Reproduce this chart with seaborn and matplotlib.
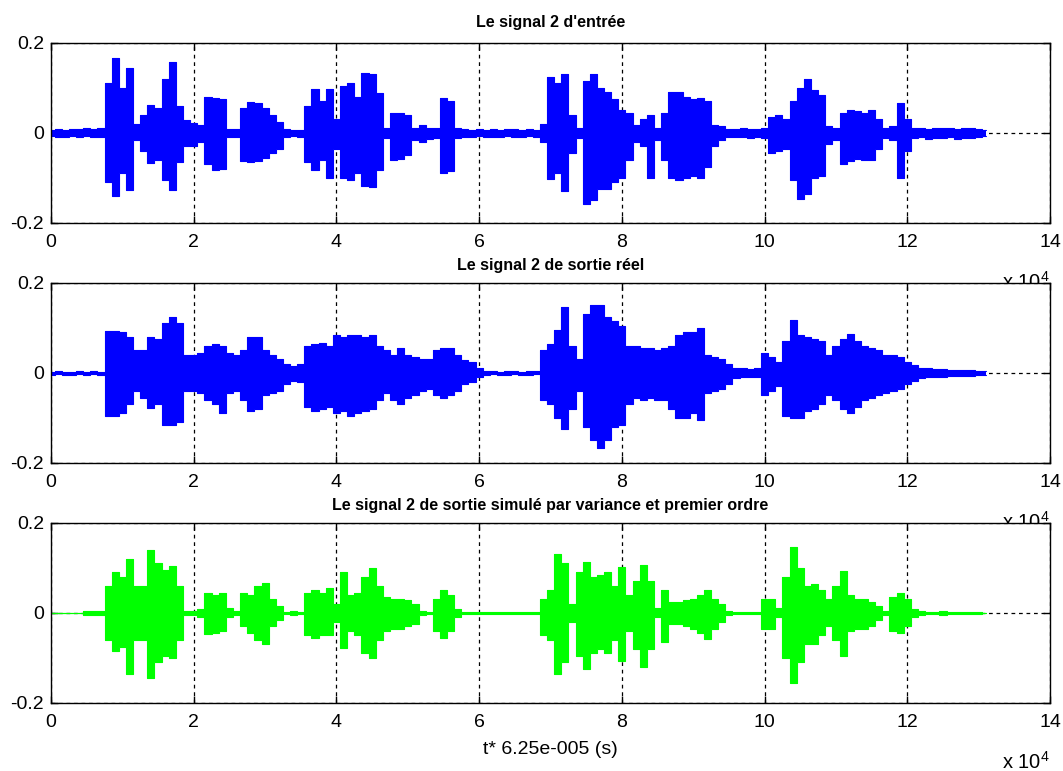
import numpy as np
import matplotlib
matplotlib.use("Agg")
import matplotlib.pyplot as plt
import seaborn as sns

# sample index (x 10^4), one envelope value every 1000 samples
t = np.arange(132) / 10

# envelopes: upper / lower amplitude of each signal
entree_hi = [0.007, 0.009, 0.006, 0.009, 0.008, 0.010, 0.008, 0.010, 0.110, 0.166,
             0.100, 0.145, 0.020, 0.040, 0.062, 0.055, 0.120, 0.158, 0.060, 0.028,
             0.022, 0.018, 0.080, 0.078, 0.075, 0.008, 0.008, 0.055, 0.068, 0.066,
             0.055, 0.040, 0.025, 0.008, 0.006, 0.007, 0.060, 0.098, 0.070, 0.098,
             0.030, 0.105, 0.110, 0.080, 0.133, 0.130, 0.088, 0.010, 0.044, 0.044,
             0.040, 0.012, 0.018, 0.012, 0.010, 0.077, 0.070, 0.010, 0.008, 0.007,
             0.009, 0.006, 0.008, 0.007, 0.009, 0.008, 0.006, 0.008, 0.007, 0.020,
             0.125, 0.110, 0.131, 0.040, 0.012, 0.116, 0.131, 0.100, 0.090, 0.075,
             0.050, 0.045, 0.018, 0.030, 0.040, 0.012, 0.045, 0.090, 0.090, 0.080,
             0.075, 0.078, 0.070, 0.018, 0.015, 0.009, 0.008, 0.010, 0.008, 0.009,
             0.010, 0.035, 0.040, 0.030, 0.070, 0.100, 0.120, 0.095, 0.085, 0.015,
             0.010, 0.045, 0.050, 0.048, 0.045, 0.050, 0.030, 0.012, 0.015, 0.067,
             0.030, 0.010, 0.012, 0.009, 0.011, 0.010, 0.012, 0.009, 0.011, 0.010,
             0.009, 0.006]
entree_lo = [-0.007, -0.008, -0.009, -0.006, -0.009, -0.007, -0.010, -0.008, -0.110, -0.141,
             -0.090, -0.127, -0.015, -0.040, -0.067, -0.060, -0.105, -0.127, -0.065, -0.030,
             -0.028, -0.020, -0.070, -0.082, -0.080, -0.010, -0.008, -0.062, -0.064, -0.062,
             -0.055, -0.045, -0.035, -0.008, -0.007, -0.008, -0.065, -0.082, -0.060, -0.100,
             -0.035, -0.100, -0.105, -0.090, -0.118, -0.120, -0.082, -0.012, -0.060, -0.058,
             -0.050, -0.015, -0.020, -0.014, -0.012, -0.090, -0.085, -0.012, -0.008, -0.009,
             -0.007, -0.010, -0.008, -0.009, -0.007, -0.008, -0.010, -0.007, -0.009, -0.020,
             -0.103, -0.090, -0.130, -0.045, -0.012, -0.157, -0.150, -0.125, -0.125, -0.110,
             -0.100, -0.060, -0.020, -0.030, -0.100, -0.015, -0.060, -0.100, -0.105, -0.100,
             -0.095, -0.100, -0.075, -0.030, -0.015, -0.009, -0.010, -0.008, -0.011, -0.009,
             -0.012, -0.045, -0.040, -0.035, -0.105, -0.147, -0.135, -0.100, -0.095, -0.025,
             -0.015, -0.068, -0.062, -0.058, -0.060, -0.060, -0.035, -0.012, -0.015, -0.100,
             -0.040, -0.012, -0.010, -0.013, -0.011, -0.012, -0.010, -0.013, -0.011, -0.012,
             -0.010, -0.006]

reel_hi = [0.003, 0.004, 0.003, 0.003, 0.004, 0.003, 0.004, 0.003, 0.093, 0.093,
           0.090, 0.080, 0.050, 0.050, 0.080, 0.075, 0.110, 0.125, 0.110, 0.040,
           0.040, 0.045, 0.060, 0.065, 0.060, 0.045, 0.040, 0.050, 0.080, 0.080,
           0.050, 0.040, 0.030, 0.020, 0.015, 0.020, 0.060, 0.065, 0.067, 0.060,
           0.085, 0.080, 0.085, 0.085, 0.080, 0.085, 0.060, 0.050, 0.040, 0.055,
           0.040, 0.035, 0.030, 0.030, 0.050, 0.055, 0.055, 0.040, 0.028, 0.025,
           0.010, 0.004, 0.004, 0.003, 0.004, 0.004, 0.003, 0.004, 0.004, 0.050,
           0.065, 0.095, 0.147, 0.060, 0.030, 0.130, 0.150, 0.150, 0.125, 0.115,
           0.105, 0.060, 0.060, 0.055, 0.055, 0.050, 0.055, 0.060, 0.085, 0.090,
           0.090, 0.100, 0.040, 0.035, 0.030, 0.020, 0.010, 0.010, 0.008, 0.010,
           0.045, 0.035, 0.025, 0.070, 0.117, 0.085, 0.080, 0.075, 0.070, 0.040,
           0.060, 0.075, 0.087, 0.070, 0.060, 0.055, 0.050, 0.040, 0.040, 0.035,
           0.025, 0.018, 0.012, 0.010, 0.009, 0.008, 0.007, 0.007, 0.006, 0.006,
           0.005, 0.004]
reel_lo = [-0.004, -0.003, -0.004, -0.004, -0.003, -0.004, -0.003, -0.004, -0.095, -0.095,
           -0.090, -0.070, -0.040, -0.055, -0.077, -0.070, -0.115, -0.115, -0.110, -0.040,
           -0.040, -0.045, -0.060, -0.070, -0.090, -0.045, -0.040, -0.060, -0.085, -0.080,
           -0.050, -0.045, -0.040, -0.025, -0.018, -0.020, -0.075, -0.085, -0.080, -0.075,
           -0.090, -0.085, -0.095, -0.090, -0.085, -0.080, -0.060, -0.045, -0.060, -0.070,
           -0.055, -0.050, -0.040, -0.035, -0.050, -0.055, -0.050, -0.040, -0.025, -0.020,
           -0.010, -0.004, -0.003, -0.004, -0.004, -0.003, -0.004, -0.004, -0.003, -0.060,
           -0.070, -0.100, -0.125, -0.080, -0.040, -0.120, -0.150, -0.166, -0.150, -0.120,
           -0.115, -0.070, -0.055, -0.060, -0.055, -0.060, -0.060, -0.080, -0.100, -0.100,
           -0.090, -0.105, -0.045, -0.040, -0.035, -0.025, -0.012, -0.010, -0.009, -0.010,
           -0.050, -0.040, -0.030, -0.095, -0.100, -0.100, -0.085, -0.080, -0.070, -0.050,
           -0.060, -0.080, -0.090, -0.075, -0.060, -0.055, -0.050, -0.045, -0.040, -0.035,
           -0.025, -0.018, -0.012, -0.010, -0.009, -0.008, -0.007, -0.007, -0.006, -0.006,
           -0.005, -0.004]

simule_hi = [0.001, 0.001, 0.001, 0.001, 0.001, 0.004, 0.004, 0.004, 0.060, 0.090,
             0.080, 0.120, 0.060, 0.060, 0.141, 0.110, 0.095, 0.104, 0.060, 0.005,
             0.005, 0.008, 0.045, 0.040, 0.045, 0.010, 0.005, 0.045, 0.040, 0.060,
             0.067, 0.030, 0.015, 0.003, 0.004, 0.003, 0.045, 0.050, 0.045, 0.056,
             0.020, 0.090, 0.040, 0.045, 0.080, 0.100, 0.060, 0.035, 0.030, 0.030,
             0.028, 0.020, 0.004, 0.003, 0.030, 0.050, 0.040, 0.008, 0.002, 0.002,
             0.003, 0.002, 0.002, 0.003, 0.002, 0.003, 0.002, 0.002, 0.003, 0.030,
             0.050, 0.132, 0.110, 0.020, 0.090, 0.113, 0.080, 0.085, 0.090, 0.060,
             0.102, 0.040, 0.070, 0.106, 0.070, 0.010, 0.050, 0.025, 0.025, 0.028,
             0.030, 0.040, 0.050, 0.030, 0.020, 0.004, 0.002, 0.003, 0.002, 0.002,
             0.030, 0.030, 0.010, 0.080, 0.147, 0.100, 0.060, 0.064, 0.050, 0.030,
             0.060, 0.094, 0.040, 0.030, 0.030, 0.025, 0.015, 0.005, 0.035, 0.045,
             0.030, 0.008, 0.004, 0.003, 0.003, 0.004, 0.002, 0.003, 0.003, 0.002,
             0.002, 0.001]
simule_lo = [-0.001, -0.001, -0.001, -0.001, -0.001, -0.004, -0.004, -0.004, -0.060, -0.085,
             -0.075, -0.136, -0.060, -0.060, -0.144, -0.110, -0.095, -0.100, -0.060, -0.005,
             -0.005, -0.008, -0.047, -0.045, -0.040, -0.010, -0.005, -0.030, -0.045, -0.060,
             -0.070, -0.030, -0.015, -0.003, -0.004, -0.003, -0.050, -0.055, -0.050, -0.050,
             -0.020, -0.077, -0.040, -0.050, -0.090, -0.100, -0.060, -0.040, -0.035, -0.035,
             -0.030, -0.025, -0.004, -0.003, -0.040, -0.055, -0.040, -0.008, -0.002, -0.003,
             -0.002, -0.002, -0.003, -0.002, -0.002, -0.003, -0.002, -0.003, -0.002, -0.050,
             -0.060, -0.136, -0.110, -0.020, -0.095, -0.125, -0.090, -0.080, -0.090, -0.060,
             -0.106, -0.040, -0.080, -0.120, -0.080, -0.010, -0.065, -0.025, -0.025, -0.030,
             -0.035, -0.045, -0.057, -0.035, -0.020, -0.004, -0.002, -0.002, -0.003, -0.002,
             -0.035, -0.035, -0.010, -0.100, -0.155, -0.110, -0.070, -0.070, -0.050, -0.030,
             -0.060, -0.095, -0.040, -0.035, -0.035, -0.030, -0.015, -0.005, -0.040, -0.045,
             -0.030, -0.008, -0.004, -0.003, -0.003, -0.004, -0.002, -0.003, -0.003, -0.002,
             -0.002, -0.001]

titles = ["Le signal 2 d'entrée",
          "Le signal 2 de sortie réel",
          "Le signal 2 de sortie simulé par variance et premier ordre"]
xticks = [0, 2, 4, 6, 8, 10, 12, 14]
yticks = [-0.2, 0, 0.2]
ytick_labels = ["-0.2", "0", "0.2"]

sns.set_style("white")
plt.rcParams['font.family'] = ['Liberation Sans', 'DejaVu Sans']
plt.rcParams['mathtext.default'] = 'regular'
plt.rcParams['axes.unicode_minus'] = False
plt.rcParams['text.color'] = 'black'
plt.rcParams['axes.labelcolor'] = 'black'

fig = plt.figure(figsize=(10.63, 7.71), dpi=100)
bottoms = [0.7108, 0.3995, 0.0882]
pads = [11.5, 9.5, 9.5]
series = [(entree_hi, entree_lo, '#0000ff'),
          (reel_hi, reel_lo, '#0000ff'),
          (simule_hi, simule_lo, '#00ff00')]

for k, (hi, lo, col) in enumerate(series):
    ax = fig.add_axes([0.048, bottoms[k], 0.9398, 0.2335], facecolor='white')
    ax.set_axisbelow(True)
    ax.grid(True, color='black', linestyle=(0, (3, 3)), linewidth=0.9)
    ax.fill_between(t, lo, hi, step='mid', color=col, linewidth=0)
    sns.lineplot(x=t, y=hi, ax=ax, color=col, lw=0.8, drawstyle='steps-mid', estimator=None)
    sns.lineplot(x=t, y=lo, ax=ax, color=col, lw=0.8, drawstyle='steps-mid', estimator=None)
    ax.set_xlim(0, 14)
    ax.set_ylim(-0.2, 0.2)
    ax.set_xticks(xticks)
    ax.set_xticklabels([str(v) for v in xticks])
    ax.set_yticks(yticks)
    ax.set_yticklabels(ytick_labels)
    ax.tick_params(direction='in', length=5, width=1, labelsize=14, colors='black',
                   top=True, right=True, bottom=True, left=True)
    ax.tick_params(axis='x', pad=8)
    ax.tick_params(axis='y', pad=5)
    for s in ax.spines.values():
        s.set_color('black')
        s.set_linewidth(1)
    ax.set_title(titles[k], fontsize=11.5, fontweight='bold', pad=pads[k], color='black')
    ax.text(1.0, -0.325, r'x 10$^4$', transform=ax.transAxes, ha='right', va='center',
            fontsize=14.5, clip_on=False)
    if k == 2:
        ax.set_xlabel('t* 6.25e-005 (s)', fontsize=14, labelpad=7)

fig.savefig('out.png', dpi=100)
